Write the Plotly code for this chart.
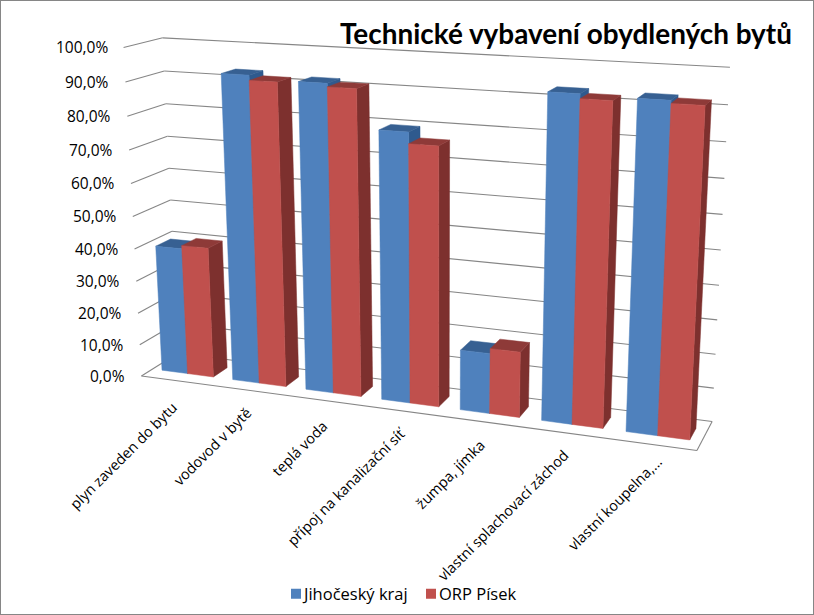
import numpy as np
import plotly.graph_objects as go

categories = ["plyn zaveden do bytu", "vodovod v bytě", "teplá voda", "přípoj na kanalizační síť",
              "žumpa, jímka", "vlastní splachovací záchod", "vlastní koupelna,..."]
series_names = ["Jihočeský kraj", "ORP Písek"]
jihocesky = [39.5, 93.0, 92.0, 79.8, 18.0, 93.3, 93.0]
orp_pisek = [40.5, 91.5, 91.0, 76.5, 19.5, 92.0, 92.2]
value_ticks = [0, 10, 20, 30, 40, 50, 60, 70, 80, 90, 100]
tick_labels = ["0,0%", "10,0%", "20,0%", "30,0%", "40,0%", "50,0%", "60,0%", "70,0%", "80,0%", "90,0%", "100,0%"]

W, H = 814, 615
# perspective camera of the 3-D box, calibrated from box corners: (u, depth, value) -> pixel
cal = [((0, 0, 0), (141, 376)), ((0, 1, 0), (178, 353)), ((0, 0, 1), (124, 47)), ((0, 1, 1), (162, 38)),
       ((1, 0, 0), (696.7, 450.7)), ((1, 1, 0), (712.3, 421.7)), ((1, 1, 1), (730, 67.7)),
       ((0, 0, .5), (133, 216.7)), ((0, 1, .5), (170.7, 200.3)), ((1, 1, .5), (720.7, 249.3))]
A, b = [], []
for (u, v, w), (px, py) in cal:
    A.append([u, v, w, 1, 0, 0, 0, 0, -px*u, -px*v, -px*w]); b.append(px)
    A.append([0, 0, 0, 0, u, v, w, 1, -py*u, -py*v, -py*w]); b.append(py)
p = np.linalg.lstsq(np.array(A, float), np.array(b, float), rcond=None)[0]
P = np.append(p, 1).reshape(3, 4)

def proj(u, v, w):
    x, y, z = P @ np.array([u, v, w, 1.0])
    return x/z, y/z

def poly(corners):
    pts = [proj(*c) for c in corners] + [proj(*corners[0])]
    return [q[0] for q in pts], [q[1] for q in pts]

GRID = "#868686"
fig = go.Figure()

# walls / floor
gx, gy = [], []
for t in value_ticks:
    for a, bb in [((0, 0, t/100), (0, 1, t/100)), ((0, 1, t/100), (1, 1, t/100))]:
        p1, p2 = proj(*a), proj(*bb)
        gx += [p1[0], p2[0], None]; gy += [p1[1], p2[1], None]
for a, bb in [((0, 0, 0), (1, 0, 0)), ((1, 0, 0), (1, 1, 0))]:
    p1, p2 = proj(*a), proj(*bb)
    gx += [p1[0], p2[0], None]; gy += [p1[1], p2[1], None]
fig.add_trace(go.Scatter(x=gx, y=gy, mode="lines", line=dict(color=GRID, width=1.1),
                         showlegend=False, hoverinfo="skip"))

n = len(categories)
cat_w = 1.0/n
bar_frac = 0.365
v0, v1 = 0.3, 0.7
styles = [dict(front="#4F81BD", top="#376092", side="#2F5A8E"),
          dict(front="#C0504D", top="#8E3A38", side="#7D302E")]

def face(corners, color, name):
    x, y = poly(corners)
    fig.add_trace(go.Scatter(x=x, y=y, mode="lines", fill="toself", fillcolor=color,
                             line=dict(color=color, width=0.5), name=name,
                             showlegend=False, hoverinfo="name"))

for i in range(n):
    for s, vals in enumerate([jihocesky, orp_pisek]):
        c = (i + 0.5)*cat_w
        u0 = c + (s - 1)*bar_frac*cat_w
        u1 = u0 + bar_frac*cat_w
        h = vals[i]/100
        lab = f"{categories[i]} – {series_names[s]}: {vals[i]:.1f} %".replace(".", ",")
        st = styles[s]
        face([(u1, v0, 0), (u1, v1, 0), (u1, v1, h), (u1, v0, h)], st["side"], lab)
        face([(u0, v0, h), (u1, v0, h), (u1, v1, h), (u0, v1, h)], st["top"], lab)
        face([(u0, v0, 0), (u1, v0, 0), (u1, v0, h), (u0, v0, h)], st["front"], lab)

# legend entries
for s, nm in enumerate(series_names):
    fig.add_trace(go.Scatter(x=[None], y=[None], mode="markers", name=nm,
                             marker=dict(symbol="square", size=10, color=styles[s]["front"])))

FONT = "Open Sans"
label_nudge_x = [-3, -1, 0, 1, -1, -1, 6]
label_nudge_y = [3, -1, 2, -1, 0, -1, -6]
ann = []
for t, lab in zip(value_ticks, tick_labels):
    x, y = proj(0, 0, t/100)
    ann.append(dict(x=x - 14, y=y, text=lab, showarrow=False, xanchor="right", yanchor="middle",
                    font=dict(family=FONT, size=15.5, color="#000000")))
for i, lab in enumerate(categories):
    x, y = proj((i + 0.5)*cat_w, 0, 0)
    ann.append(dict(x=x + 10 + label_nudge_x[i], y=y + 11 + label_nudge_y[i], text=lab, showarrow=False,
                    textangle=-45, xanchor="right", yanchor="top",
                    font=dict(family=FONT, size=14.5, color="#000000")))
ann.append(dict(x=794, y=32.5, text="<b>Technické vybavení obydlených bytů</b>", showarrow=False,
                xanchor="right", yanchor="middle", font=dict(family="Lato", size=27.9, color="#000000")))

fig.update_layout(
    width=W, height=H, margin=dict(l=0, r=0, t=0, b=0),
    paper_bgcolor="white", plot_bgcolor="white",
    xaxis=dict(range=[0, W], visible=False, fixedrange=True),
    yaxis=dict(range=[H, 0], visible=False, fixedrange=True),
    annotations=ann,
    shapes=[dict(type="rect", xref="paper", yref="paper", x0=0, x1=1, y0=0, y1=1,
                 line=dict(color="#868686", width=2), fillcolor="rgba(0,0,0,0)")],
    legend=dict(orientation="h", x=264/W, xanchor="left", y=0.034, yanchor="middle",
                entrywidth=90, entrywidthmode="pixels",
                bgcolor="rgba(0,0,0,0)", font=dict(family=FONT, size=16.5, color="#000000")),
)
fig.write_html("out.html", config=dict(displayModeBar=False),
               post_script="document.body.style.margin='0';document.documentElement.style.overflow='hidden';"
                           "document.querySelectorAll('.legendpoints').forEach(e=>e.setAttribute('transform','translate(12,0)'));")
